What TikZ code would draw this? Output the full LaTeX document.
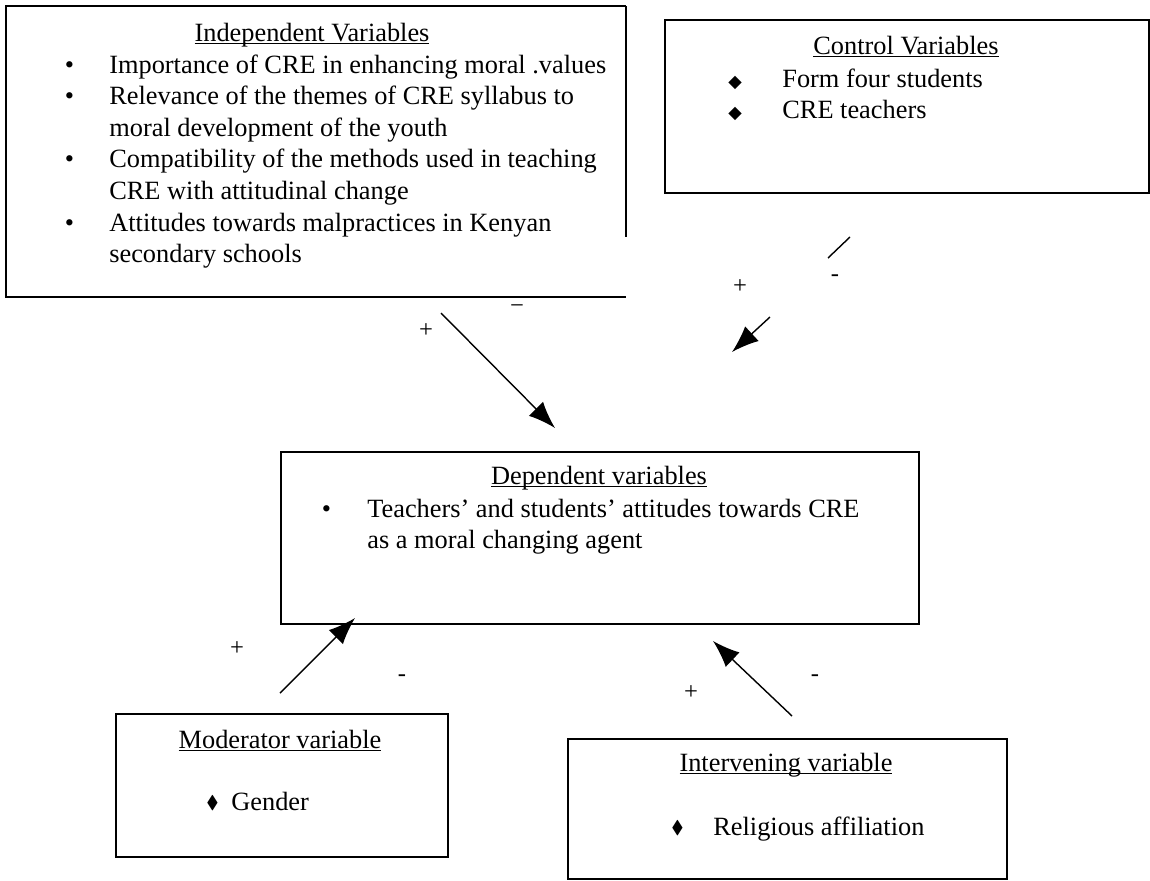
\documentclass[tikz,border=0pt]{standalone}
\usepackage{fontspec}
\usepackage{amssymb}
\setmainfont{Liberation Serif}
\newfontfamily\symfont{DejaVu Sans}
\usetikzlibrary{arrows.meta,positioning}
\newcommand\diam{\raisebox{0.15ex}{\scalebox{0.7}{$\blacklozenge$}}}
\newcommand\sqdiam{{\symfont\fontsize{10}{10}\selectfont ◆}}
\newcommand\ttl[1]{\setbox0\hbox{#1}\rlap{\rule[-1.8pt]{\wd0}{0.6pt}}\box0}

\tikzset{
  varbox/.style={draw, line width=1pt, inner sep=0pt, anchor=north west},
  boxtitle/.style={anchor=base, inner sep=0pt, font=\fontsize{15}{18}\selectfont},
  listtext/.style={anchor=base west, inner sep=0pt, font=\fontsize{15}{18}\selectfont},
  sign/.style={inner sep=0pt, font=\fontsize{14}{14}\selectfont},
  link/.style={-{Latex[length=5.4mm,width=4mm]}, line width=0.8pt},
}

\begin{document}
\begin{tikzpicture}[x=0.02cm,y=-0.02cm]
   \useasboundingbox (0,0) rectangle (1150,880);

   % boxes
   \node[varbox, draw=none, minimum width=12.36cm, minimum height=5.78cm] (indep) at (6,6) {};
   \draw[line width=1pt] (indep.north east) -- (indep.north west) -- (indep.south west) -- (indep.south east);
   \draw[line width=1pt] (indep.north east) -- ++(0,231);
   \node[varbox, minimum width=9.68cm, minimum height=3.46cm] (ctrl) at (664,19) {};
   \node[varbox, minimum width=12.76cm, minimum height=3.44cm] (dep) at (280,451) {};
   \node[varbox, minimum width=6.64cm, minimum height=2.86cm] (mod) at (115,713) {};
   \node[varbox, minimum width=8.78cm, minimum height=2.8cm] (interv) at (567,738) {};

   % texts
   \node[boxtitle] (indeptitle) at (312,41) {\ttl{Independent Variables}};
   \node[listtext] (indeplist) at (64.5,73) {\begin{tabular}[t]{@{}p{0.89cm}@{}l@{}}
      \textbullet & Importance of CRE in enhancing moral .values\\
      \textbullet & Relevance of the themes of CRE syllabus to\\
                  & moral development of the youth\\
      \textbullet & Compatibility of the methods used in teaching\\
                  & CRE with attitudinal change\\
      \textbullet & Attitudes towards malpractices in Kenyan\\
                  & secondary schools
   \end{tabular}};

   \node[boxtitle] (ctrltitle) at (906,54) {\ttl{Control Variables}};
   \node[listtext] (ctrllist) at (728,87) {\begin{tabular}[t]{@{}p{1.08cm}@{}l@{}}
      \sqdiam & Form four students\\
      \sqdiam & CRE teachers
   \end{tabular}};

   \node[boxtitle] (deptitle) at (599,484) {\ttl{Dependent variables}};
   \node[listtext] (deplist) at (321.5,517) {\begin{tabular}[t]{@{}p{0.91cm}@{}l@{}}
      \textbullet & Teachers’ and students’ attitudes towards CRE\\
                  & as a moral changing agent
   \end{tabular}};

   \node[boxtitle] (modtitle) at (280,748) {\ttl{Moderator variable}};
   \node[listtext] (modlist) at (206,810) {\makebox[0.5cm][l]{\diam}Gender};

   \node[boxtitle] (intertitle) at (786,771) {\ttl{Intervening variable}};
   \node[listtext] (interlist) at (671,835) {\makebox[0.84cm][l]{\diam}Religious affiliation};

   % arrows
   \coordinate (a1s) at (441,313);  \coordinate (a1e) at (555,428);
   \coordinate (a2s) at (770,317);  \coordinate (a2e) at (732,352);
   \coordinate (c2s) at (828,258);  \coordinate (c2e) at (850,237);
   \coordinate (a3s) at (280,693);  \coordinate (a3e) at (355,618);
   \coordinate (a4s) at (792,716);  \coordinate (a4e) at (713,641);
   \draw[link] (a1s) -- (a1e);
   \draw[line width=0.8pt] (c2s) -- (c2e);
   \draw[link] (a2s) -- (a2e);
   \draw[link] (a3s) -- (a3e);
   \draw[link] (a4s) -- (a4e);

   % signs
   \node[sign] (p1) at (426,331) {+};
   \node[sign] (m1) at (517,309) {−};
   \node[sign] (p2) at (740,287) {+};
   \node[sign] (m2) at (835,278) {-};
   \node[sign] (p3) at (237,649) {+};
   \node[sign] (m3) at (402,678) {-};
   \node[sign] (p4) at (691,693) {+};
   \node[sign] (m4) at (815,678) {-};
\end{tikzpicture}
\end{document}
